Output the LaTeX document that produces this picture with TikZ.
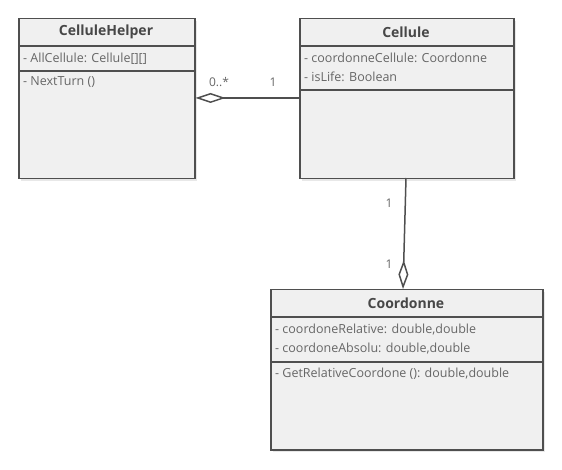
\documentclass[tikz,border=0pt]{standalone}
\usepackage{fontspec}
\setmainfont{Open Sans}
\usetikzlibrary{arrows.meta,shadows}

\definecolor{umlfill}{HTML}{F0F0F0}
\definecolor{umlline}{HTML}{4F4F4F}
\definecolor{umltext}{HTML}{666666}
\definecolor{umltitle}{HTML}{474747}

\tikzset{
  classbox/.style={draw=umlline,fill=umlfill,line width=1.5pt,anchor=north west,inner sep=0pt,
    drop shadow={shadow xshift=2pt,shadow yshift=-2pt,opacity=0.18}},
  classname/.style={font=\bfseries\fontsize{14}{16}\selectfont,text=umltitle},
  member/.style={anchor=west,inner sep=0pt,font=\fontsize{12.5}{14}\selectfont,text=umltext},
  sepline/.style={draw=umlline,line width=1.5pt},
  assoc/.style={draw=umlline,line width=1.5pt},
  mult/.style={font=\fontsize{12}{14}\selectfont,text=umltext}
}

\begin{document}
\begin{tikzpicture}[x=1pt,y=-1pt]
\useasboundingbox (0,0) rectangle (562,470);

% CelluleHelper
\node[classbox,minimum width=176pt,minimum height=160pt] (helper) at (18,18) {};
\node[classname] (helpername) at (106,32) {CelluleHelper};
\draw[sepline] (helper.west |- 0,46) -- (helper.east |- 0,46);
\draw[sepline] (helper.west |- 0,71) -- (helper.east |- 0,71);
\foreach \i/\y/\txt in {1/59/{- AllCellule: Cellule[][]},2/82/{- NextTurn ()}}
  \node[member] (helperm\i) at (23,\y) {\txt};

% Cellule
\node[classbox,minimum width=214pt,minimum height=160pt] (cellule) at (299,18) {};
\node[classname] (cellulename) at (406,32) {Cellule};
\draw[sepline] (cellule.west |- 0,46) -- (cellule.east |- 0,46);
\draw[sepline] (cellule.west |- 0,90) -- (cellule.east |- 0,90);
\foreach \i/\y/\txt in {1/58/{- coordonneCellule: Coordonne},2/77/{- isLife: Boolean}}
  \node[member] (cellulem\i) at (304,\y) {\txt};

% Coordonne
\node[classbox,minimum width=272pt,minimum height=160pt] (coord) at (270,289) {};
\node[classname] (coordname) at (406,303) {Coordonne};
\draw[sepline] (coord.west |- 0,317) -- (coord.east |- 0,317);
\draw[sepline] (coord.west |- 0,362) -- (coord.east |- 0,362);
\foreach \i/\y/\txt in {1/330/{- coordoneRelative: double,double},2/349/{- coordoneAbsolu: double,double},3/374/{- GetRelativeCoordone (): double,double}}
  \node[member] (coordm\i) at (275,\y) {\txt};

% links
\coordinate (aggA) at (cellule.west |- 0,98);
\coordinate (aggB) at (helper.east |- 0,98);
\draw[assoc,-{Diamond[open,length=30pt,width=10pt,line width=1.5pt]}] (aggA) -- (aggB);
\node[mult] (m1) at (219,82) {0..*};
\node[mult] (m2) at (273,82) {1};

\coordinate (aggC) at (406,178);
\coordinate (aggD) at (403,289);
\draw[assoc,-{Diamond[open,length=29pt,width=10pt,line width=1.5pt]}] (aggC) -- (aggD);
\node[mult] (m3) at (389,203) {1};
\node[mult] (m4) at (389,264) {1};
\end{tikzpicture}
\end{document}
